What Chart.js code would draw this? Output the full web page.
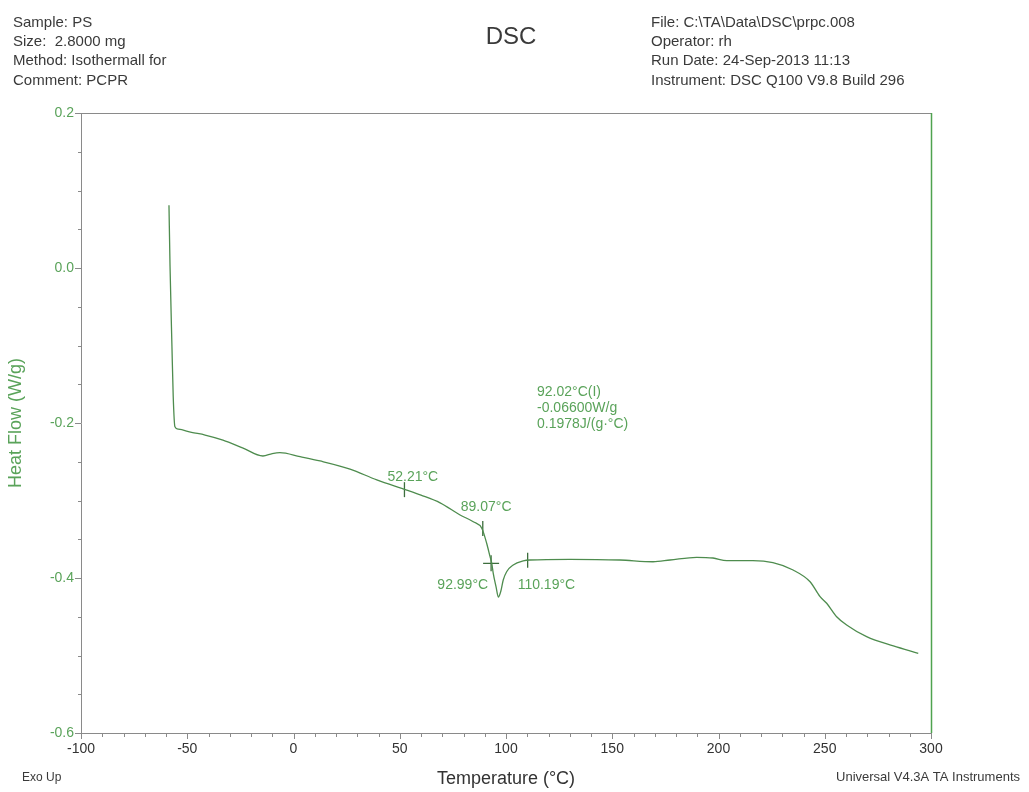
<!DOCTYPE html>
<html>
<head>
<meta charset="utf-8">
<title>DSC</title>
<script src="https://cdn.jsdelivr.net/npm/chart.js@4.4.1/dist/chart.umd.min.js"></script>
<style>
  html, body { margin: 0; padding: 0; background: #ffffff; }
  #wrap { width: 1029px; height: 792px; position: relative; }
</style>
</head>
<body>
<div id="wrap"><canvas id="dsc" width="1029" height="792"></canvas></div>
<script>
// Heat flow trace (°C, W/g)
const temps = [-58.6, -58.1, -57.2, -56.6, -55.8, -54.2, -48, -41.6, -33.2, -24, -14.4, -10, -6.4, 3.1, 12.5,
  26.6, 39.2, 53.3, 60, 69, 78.4, 84.6, 88.6, 90.9, 92.5, 93.3, 94.0, 95.3, 96.4, 97.5, 98.7, 100.3, 103.4,
  108.1, 111.3, 130.1, 153.6, 169.2, 177.2, 189.7, 197.4, 203.9, 216.2, 225.6, 235.1, 243.1, 247.8, 250.9,
  255.6, 260.3, 269.7, 282.3, 294.0];
const heatFlow = [0.081, 0.002, -0.1015, -0.166, -0.2048, -0.208, -0.212, -0.2155, -0.222, -0.232, -0.2426,
  -0.2395, -0.2383, -0.2435, -0.249, -0.2594, -0.2735, -0.2865, -0.293, -0.303, -0.3187, -0.3274, -0.3359,
  -0.3552, -0.3725, -0.381, -0.394, -0.4112, -0.4245, -0.4177, -0.4026, -0.3919, -0.3832, -0.378, -0.3768,
  -0.3759, -0.3768, -0.379, -0.3768, -0.3733, -0.3742, -0.3777, -0.3777, -0.3803, -0.3897, -0.4048, -0.4241,
  -0.4326, -0.45, -0.4606, -0.4757, -0.4877, -0.4972];

// Analysis markers on the trace
const eventTemps = [52.21, 89.07, 110.19];
const eventFlows = [-0.286, -0.336, -0.377];
const eventLabels = ['52.21°C', '89.07°C', '110.19°C'];
const crossTemps = [92.99];
const crossFlows = [-0.381];
const crossLabels = ['92.99°C'];

// Glass transition result block
const tgLines = ['92.02°C(I)', '-0.06600W/g', '0.1978J/(g·°C)'];

// Axis ranges and labelled ticks
const xRange = [-100, 300];
const yRange = [-0.6, 0.2];
const xMajorTicks = [-100, -50, 0, 50, 100, 150, 200, 250, 300];
const yMajorTicks = [0.2, 0.0, -0.2, -0.4, -0.6];

// Run header
const headerLeft = ['Sample: PS', 'Size:  2.8000 mg', 'Method: Isothermall for', 'Comment: PCPR'];
const headerRight = ['File: C:\\TA\\Data\\DSC\\prpc.008', 'Operator: rh', 'Run Date: 24-Sep-2013 11:13',
  'Instrument: DSC Q100 V9.8 Build 296'];
const chartTitle = 'DSC';
const footLeft = 'Exo Up';
const footRight = 'Universal V4.3A TA Instruments';

const GREEN_LINE = '#4e8c4e';
const GREEN_TEXT = '#5aa35a';
const AXIS_GRAY = '#8a8a8a';
const FONT = '"Liberation Sans", Arial, sans-serif';

const isMajor = (v, step) => Math.abs(v / step - Math.round(v / step)) < 1e-6;

const decorations = {
  id: 'decorations',
  afterDraw(chart) {
    const ctx = chart.ctx;
    const xs = chart.scales.x, ys = chart.scales.y;
    const area = chart.chartArea;
    ctx.save();

    // frame: top and right edges
    ctx.lineWidth = 1;
    ctx.strokeStyle = AXIS_GRAY;
    ctx.beginPath();
    ctx.moveTo(area.left, area.top + 0.5);
    ctx.lineTo(area.right, area.top + 0.5);
    ctx.stroke();
    ctx.strokeStyle = '#4fa34f';
    ctx.lineWidth = 1.5;
    ctx.beginPath();
    ctx.moveTo(area.right + 0.5, area.top);
    ctx.lineTo(area.right + 0.5, area.bottom);
    ctx.stroke();
    ctx.lineWidth = 1;

    // tick marks
    ctx.strokeStyle = AXIS_GRAY;
    ys.ticks.forEach(t => {
      const py = Math.round(ys.getPixelForValue(t.value)) + 0.5;
      const len = isMajor(t.value, 0.2) ? 6 : 3;
      ctx.beginPath();
      ctx.moveTo(area.left - len, py);
      ctx.lineTo(area.left, py);
      ctx.stroke();
    });
    xs.ticks.forEach(t => {
      const px = Math.round(xs.getPixelForValue(t.value)) + 0.5;
      const len = isMajor(t.value, 50) ? 6 : 4;
      ctx.beginPath();
      ctx.moveTo(px, area.bottom);
      ctx.lineTo(px, area.bottom + len);
      ctx.stroke();
    });

    // marker labels
    ctx.fillStyle = GREEN_TEXT;
    ctx.font = '14px ' + FONT;
    ctx.textBaseline = 'middle';
    const labelOffsets = [[-17, -13, 'left'], [-22, -21, 'left'], [-10, 25, 'left']];
    eventTemps.forEach((t, i) => {
      const px = xs.getPixelForValue(t), py = ys.getPixelForValue(eventFlows[i]);
      const o = labelOffsets[i];
      ctx.textAlign = o[2];
      ctx.fillText(eventLabels[i], px + o[0], py + o[1]);
    });
    crossTemps.forEach((t, i) => {
      const px = xs.getPixelForValue(t), py = ys.getPixelForValue(crossFlows[i]);
      ctx.textAlign = 'right';
      ctx.fillText(crossLabels[i], px - 3, py + 22);
    });

    // glass transition result block
    ctx.textAlign = 'left';
    const bx = xs.getPixelForValue(114.6), by = ys.getPixelForValue(-0.16);
    tgLines.forEach((s, i) => ctx.fillText(s, bx, by + i * 16));

    // header
    ctx.fillStyle = '#3a3a3a';
    ctx.font = '15px ' + FONT;
    ctx.textBaseline = 'alphabetic';
    ctx.textAlign = 'left';
    headerLeft.forEach((s, i) => ctx.fillText(s, 13, 26.5 + i * 19.4));
    headerRight.forEach((s, i) => ctx.fillText(s, 651, 26.5 + i * 19.4));
    ctx.font = '24px ' + FONT;
    ctx.textAlign = 'center';
    ctx.fillText(chartTitle, 511, 44);

    // footer
    ctx.font = '12px ' + FONT;
    ctx.textAlign = 'left';
    ctx.fillText(footLeft, 22, 781);
    ctx.font = '13px ' + FONT;
    ctx.textAlign = 'right';
    ctx.fillText(footRight, 1020, 781);
    ctx.restore();
  }
};

new Chart(document.getElementById('dsc'), {
  type: 'scatter',
  data: {
    datasets: [
      {
        data: temps.map((t, i) => ({ x: t, y: heatFlow[i] })),
        showLine: true,
        borderColor: GREEN_LINE,
        borderWidth: 1.3,
        pointRadius: 0,
        cubicInterpolationMode: 'monotone',
        fill: false
      },
      {
        data: eventTemps.map((t, i) => ({ x: t, y: eventFlows[i] })),
        pointStyle: 'line',
        rotation: 90,
        pointRadius: 7.5,
        borderColor: '#3d6e3d',
        borderWidth: 1.3,
        backgroundColor: '#3d6e3d'
      },
      {
        data: crossTemps.map((t, i) => ({ x: t, y: crossFlows[i] })),
        pointStyle: 'cross',
        pointRadius: 8,
        borderColor: '#3d6e3d',
        borderWidth: 1.3,
        backgroundColor: '#3d6e3d'
      }
    ]
  },
  options: {
    responsive: false,
    animation: false,
    devicePixelRatio: 1,
    layout: { padding: { top: 113, right: 98, left: 0, bottom: 0 } },
    plugins: { legend: { display: false }, tooltip: { enabled: false }, title: { display: false } },
    scales: {
      x: {
        type: 'linear',
        min: xRange[0],
        max: xRange[1],
        afterFit: s => { s.height = 59; },
        border: { color: AXIS_GRAY, width: 1 },
        grid: { display: true, drawOnChartArea: false, drawTicks: false },
        ticks: {
          stepSize: 10,
          autoSkip: false,
          maxRotation: 0,
          padding: 8,
          color: '#333333',
          font: { family: FONT, size: 14 },
          callback: v => (xMajorTicks.includes(Math.round(v)) && isMajor(v, 50)) ? String(Math.round(v)) : ''
        },
        title: {
          display: true,
          text: 'Temperature (°C)',
          color: '#333333',
          font: { family: FONT, size: 18 },
          padding: { top: 0, bottom: 2 }
        }
      },
      y: {
        type: 'linear',
        min: yRange[0],
        max: yRange[1],
        afterFit: s => { s.width = 81; },
        border: { color: AXIS_GRAY, width: 1 },
        grid: { display: true, drawOnChartArea: false, drawTicks: false },
        ticks: {
          stepSize: 0.05,
          autoSkip: false,
          padding: 7,
          color: GREEN_TEXT,
          font: { family: FONT, size: 14 },
          callback: v => {
            if (!isMajor(v, 0.2)) return '';
            const r = Math.round(v * 10) / 10;
            return yMajorTicks.some(m => Math.abs(m - r) < 1e-6) ? (r === 0 ? '0.0' : r.toFixed(1)) : '';
          }
        },
        title: {
          display: true,
          text: 'Heat Flow (W/g)',
          color: GREEN_TEXT,
          font: { family: FONT, size: 18 },
          padding: { top: 5, bottom: 0 }
        }
      }
    }
  },
  plugins: [decorations]
});
</script>
</body>
</html>
